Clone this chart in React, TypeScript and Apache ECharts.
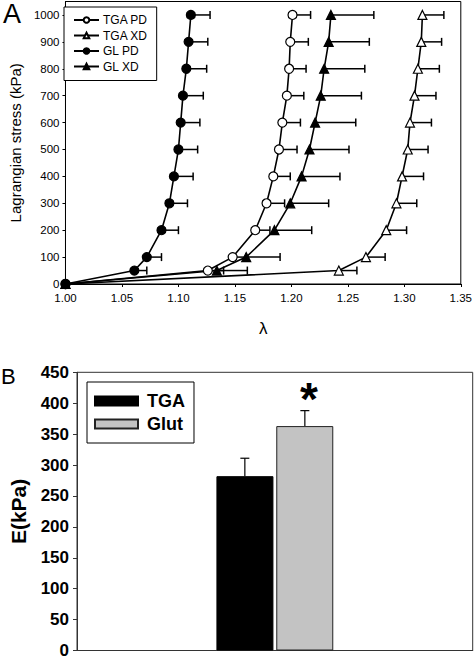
import React, { useEffect, useRef } from "react";
import * as echarts from "echarts";

const stress = [0, 50, 100, 200, 300, 400, 500, 600, 700, 800, 900, 1000];
const tgaPd = [1.0, 1.126, 1.148, 1.168, 1.178, 1.184, 1.189, 1.192, 1.196, 1.198, 1.199, 1.201];
const tgaPdErr = [null, 1.14, 1.16, 1.181, 1.194, 1.199, 1.205, 1.208, 1.211, 1.213, 1.215, 1.217];
const tgaXd = [1.0, 1.242, 1.266, 1.284, 1.293, 1.298, 1.303, 1.305, 1.309, 1.312, 1.315, 1.316];
const tgaXdErr = [null, 1.258, 1.283, 1.302, 1.311, 1.317, 1.321, 1.324, 1.328, 1.331, 1.333, 1.335];
const glPd = [1.0, 1.061, 1.072, 1.085, 1.092, 1.096, 1.1, 1.102, 1.104, 1.107, 1.109, 1.111];
const glPdErr = [null, 1.072, 1.085, 1.1, 1.108, 1.113, 1.117, 1.119, 1.122, 1.125, 1.126, 1.128];
const glXd = [1.0, 1.134, 1.16, 1.185, 1.199, 1.209, 1.216, 1.221, 1.226, 1.229, 1.233, 1.235];
const glXdErr = [null, 1.161, 1.19, 1.218, 1.233, 1.243, 1.251, 1.257, 1.262, 1.265, 1.269, 1.273];

const barCategories = [""];
const tgaE = [282];
const tgaEErr = [311];
const glutE = [363];
const glutEErr = [388];

const FONT = "Liberation Sans, Arial, Helvetica, sans-serif";

export default function App() {
  const ref = useRef<HTMLDivElement>(null);
  useEffect(() => {
    if (!ref.current) return;
    const chart = echarts.init(ref.current, null, { renderer: "svg" });

    const pairs = (lam: number[]) => lam.map((l, i) => [l, stress[i]]);
    const errData = (lam: number[], err: (number | null)[]) =>
      lam
        .map((l, i) => [l, stress[i], err[i]])
        .filter((d) => d[2] !== null);

    const errSeries = (lam: number[], err: (number | null)[]) => ({
      type: "custom",
      xAxisIndex: 0,
      yAxisIndex: 0,
      silent: true,
      z: 1,
      data: errData(lam, err),
      encode: { x: [0, 2], y: 1 },
      renderItem: (params: any, api: any) => {
        const p = api.coord([api.value(0), api.value(1)]);
        const e = api.coord([api.value(2), api.value(1)]);
        const st = { stroke: "#000", lineWidth: 1.5 };
        return {
          type: "group",
          children: [
            { type: "line", shape: { x1: p[0], y1: p[1], x2: e[0], y2: e[1] }, style: st },
            { type: "line", shape: { x1: e[0], y1: e[1] - 4, x2: e[0], y2: e[1] + 4 }, style: st },
          ],
        };
      },
    });

    const lineSeries = (name: string, lam: number[], symbol: string, filled: boolean) => ({
      type: "line",
      name,
      xAxisIndex: 0,
      yAxisIndex: 0,
      data: pairs(lam),
      symbol,
      symbolSize: 9,
      showAllSymbol: true,
      z: 3,
      lineStyle: { color: "#000", width: 1.6 },
      itemStyle: { color: filled ? "#000" : "#fff", borderColor: "#000", borderWidth: 1.2 },
    });

    const barErr = (vals: number[], errs: number[], offset: number) => ({
      type: "custom",
      xAxisIndex: 1,
      yAxisIndex: 1,
      silent: true,
      z: 1,
      data: vals.map((v, i) => [i, v, errs[i]]),
      encode: { x: 0, y: [1, 2] },
      renderItem: (params: any, api: any) => {
        const p = api.coord([api.value(0), api.value(1)]);
        const e = api.coord([api.value(0), api.value(2)]);
        const x = p[0] + offset;
        const st = { stroke: "#000", lineWidth: 1.2 };
        return {
          type: "group",
          children: [
            { type: "line", shape: { x1: x, y1: p[1], x2: x, y2: e[1] }, style: st },
            { type: "line", shape: { x1: x - 4.5, y1: e[1], x2: x + 4.5, y2: e[1] }, style: st },
          ],
        };
      },
    });

    const option: any = {
      animation: false,
      backgroundColor: "#fff",
      textStyle: { fontFamily: FONT },
      grid: [
        { left: 61, top: 1.5, width: 402, height: 282.5, show: true, borderColor: "#000", borderWidth: 1, backgroundColor: "transparent" },
        { left: 71, top: 372.3, width: 401.7, height: 278.7, show: true, borderColor: "#333", borderWidth: 1, backgroundColor: "transparent" },
      ],
      xAxis: [
        {
          type: "value",
          gridIndex: 0,
          min: 1.0,
          max: 1.35,
          interval: 0.05,
          name: "λ",
          nameLocation: "middle",
          nameGap: 36,
          nameTextStyle: { fontSize: 17, color: "#000", fontFamily: FONT },
          axisLine: { show: true, onZero: false, lineStyle: { color: "#000", width: 1 } },
          axisTick: { show: true, length: 3, lineStyle: { color: "#000" } },
          axisLabel: { fontSize: 11.5, color: "#000", margin: 8, formatter: (v: number) => v.toFixed(2) },
          splitLine: { show: false },
        },
        {
          type: "category",
          gridIndex: 1,
          data: barCategories,
          axisLine: { show: true, lineStyle: { color: "#333", width: 1 } },
          axisTick: { show: false },
          axisLabel: { show: false },
        },
      ],
      yAxis: [
        {
          type: "value",
          gridIndex: 0,
          min: 0,
          max: 1050,
          interval: 100,
          name: "Lagrangian stress (kPa)",
          nameLocation: "middle",
          nameGap: 42,
          nameTextStyle: { fontSize: 15, color: "#000", fontFamily: FONT },
          axisLine: { show: true, lineStyle: { color: "#000", width: 1 } },
          axisTick: { show: true, length: 3, lineStyle: { color: "#000" } },
          axisLabel: { fontSize: 11.5, color: "#000", margin: 6, showMaxLabel: false, formatter: (v: number) => String(v) },
          splitLine: { show: false },
        },
        {
          type: "value",
          gridIndex: 1,
          min: 0,
          max: 450,
          interval: 50,
          name: "E(kPa)",
          nameLocation: "middle",
          nameGap: 48,
          nameTextStyle: { fontSize: 21, fontWeight: "bold", color: "#000", fontFamily: FONT },
          axisLine: { show: true, lineStyle: { color: "#333", width: 1 } },
          axisTick: { show: true, length: 4, lineStyle: { color: "#333" } },
          axisLabel: { fontSize: 17, fontWeight: "bold", color: "#000", margin: 8 },
          splitLine: { show: false },
        },
      ],
      legend: [
        {
          data: ["TGA PD", "TGA XD", "GL PD", "GL XD"],
          orient: "vertical",
          left: 64,
          top: 7,
          padding: [7, 9, 8, 9],
          itemWidth: 25,
          itemHeight: 7,
          itemGap: 3.5,
          borderColor: "#000",
          borderWidth: 1,
          backgroundColor: "#fff",
          textStyle: { fontSize: 12, color: "#000", fontFamily: FONT, padding: [0, 0, 0, -1] },
        },
        {
          data: [
            { name: "TGA", icon: "rect" },
            { name: "Glut", icon: "rect" },
          ],
          orient: "vertical",
          left: 87,
          top: 382,
          padding: [9, 9, 9, 7],
          itemWidth: 43,
          itemHeight: 9,
          itemGap: 3,
          borderColor: "#000",
          borderWidth: 1,
          backgroundColor: "#fff",
          textStyle: { fontSize: 18, lineHeight: 20, fontWeight: "bold", color: "#000", fontFamily: FONT, padding: [0, 0, 0, 4] },
        },
      ],
      graphic: [
        { type: "text", left: 3, top: 0, style: { text: "A", font: `27px ${FONT}`, fill: "#000" } },
        { type: "text", left: 1, top: 365, style: { text: "B", font: `22px ${FONT}`, fill: "#000" } },
        { type: "text", left: 300, top: 376, style: { text: "*", font: `bold 46px ${FONT}`, fill: "#000" } },
      ],
      series: [
        errSeries(tgaPd, tgaPdErr),
        errSeries(tgaXd, tgaXdErr),
        errSeries(glPd, glPdErr),
        errSeries(glXd, glXdErr),
        lineSeries("TGA PD", tgaPd, "circle", false),
        lineSeries("TGA XD", tgaXd, "triangle", false),
        lineSeries("GL PD", glPd, "circle", true),
        lineSeries("GL XD", glXd, "triangle", true),
        barErr(tgaE, tgaEErr, -30),
        barErr(glutE, glutEErr, 30),
        {
          type: "bar",
          name: "TGA",
          xAxisIndex: 1,
          yAxisIndex: 1,
          data: tgaE,
          barWidth: 57,
          barGap: "5%",
          z: 2,
          itemStyle: { color: "#000", borderColor: "#000", borderWidth: 1 },
        },
        {
          type: "bar",
          name: "Glut",
          xAxisIndex: 1,
          yAxisIndex: 1,
          data: glutE,
          barWidth: 57,
          barGap: "5%",
          z: 2,
          itemStyle: { color: "#c3c3c3", borderColor: "#222", borderWidth: 1 },
        },
      ],
    };
    chart.setOption(option);
    return () => chart.dispose();
  }, []);

  return (
    <div
      ref={ref}
      style={{ position: "absolute", left: 0, top: 0, width: 475, height: 659, background: "#fff" }}
    />
  );
}
